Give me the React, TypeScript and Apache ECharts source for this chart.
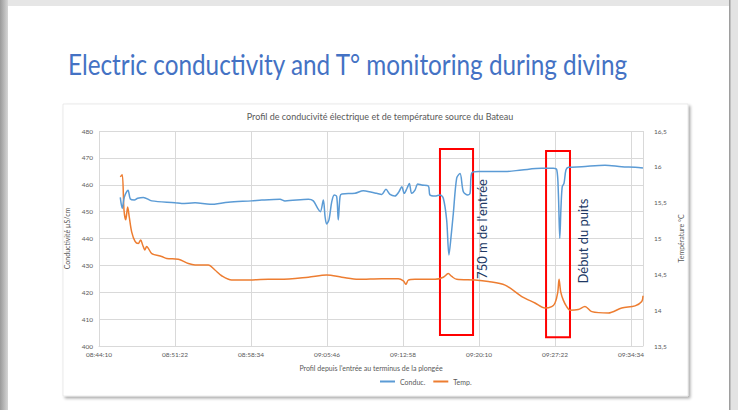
import React, { useEffect, useRef } from "react";
import * as echarts from "echarts";

const START_TIME = "08:44:10";
const AXIS_SPAN_SEC = 3092;
const TICK_STEP_SEC = 432;

const condTimes = ["08:46:11","08:46:22","08:46:34","08:46:55","08:47:08","08:47:31","08:47:50","08:48:22","08:49:10","08:51:22","08:52:00","08:53:16","08:54:41","08:56:25","08:58:38","08:59:35","09:01:19","09:01:47","09:04:00","09:04:28","09:04:53","09:05:08","09:05:25","09:05:35","09:05:44","09:05:57","09:06:13","09:06:27","09:06:41","09:06:50","09:07:00","09:07:10","09:08:25","09:09:12","09:10:00","09:10:28","09:10:57","09:11:21","09:11:44","09:12:12","09:12:35","09:12:51","09:13:05","09:13:21","09:13:34","09:13:47","09:14:06","09:14:22","09:14:44","09:15:22","09:15:31","09:16:00","09:16:28","09:16:47","09:17:06","09:17:19","09:17:31","09:17:44","09:18:03","09:18:22","09:18:41","09:19:06","09:19:19","09:19:28","09:20:06","09:22:38","09:24:13","09:26:06","09:27:12","09:27:32","09:27:41","09:27:49","09:27:56","09:28:03","09:28:13","09:28:24","09:28:38","09:29:54","09:32:06","09:33:41","09:34:57","09:35:42"];
const condValues = [455.3,451.2,455.4,458,454.7,454.3,455,455.3,454,453.3,453,453.3,452.7,453.5,454,454.3,454.6,454,454.6,454,451.2,450,454.3,448.1,445.4,446.9,453.7,456.2,455.6,446.9,455.6,456.6,456.8,457.8,457.2,456.8,456.4,458.3,456.4,455.8,457.4,459.3,456.8,458.7,460.5,456.8,458,460.3,459.9,459.5,456.2,455.8,456.2,455,446.9,433.9,440.7,449.4,462.5,464.2,457.4,456.2,456.8,464.3,464.9,464.9,465.5,466.1,466.1,465.5,456.8,440.1,451.8,459.3,460.5,465.5,466.5,466.7,467.3,466.7,466.5,466.2];

const tempTimes = ["08:46:11","08:46:22","08:46:32","08:46:42","08:46:53","08:47:02","08:47:16","08:47:35","08:47:53","08:48:07","08:48:18","08:48:31","08:48:41","08:49:10","08:50:06","08:50:35","08:51:41","08:52:38","08:53:16","08:54:31","08:55:09","08:55:47","08:56:44","08:58:00","09:00:12","09:01:19","09:04:00","09:05:44","09:07:10","09:08:44","09:10:57","09:12:31","09:13:00","09:13:15","09:13:28","09:14:06","09:16:00","09:16:47","09:17:15","09:17:35","09:18:03","09:19:47","09:21:03","09:22:38","09:24:13","09:25:28","09:26:25","09:27:03","09:27:22","09:27:37","09:27:45","09:27:54","09:28:09","09:28:28","09:28:47","09:29:34","09:30:12","09:30:51","09:32:25","09:33:41","09:34:57","09:35:35","09:35:42"];
const tempValues = [15.86,15.89,15.4,15.26,15.44,15.3,15.09,14.96,14.93,14.98,14.91,14.84,14.89,14.79,14.75,14.72,14.71,14.65,14.63,14.63,14.56,14.48,14.42,14.42,14.43,14.43,14.46,14.49,14.46,14.43,14.44,14.44,14.41,14.36,14.42,14.43,14.43,14.46,14.51,14.47,14.43,14.42,14.4,14.35,14.19,14.1,14.03,14.05,14.1,14.24,14.43,14.26,14.14,14.05,14.0,14.01,14.05,13.98,13.96,14.03,14.06,14.12,14.2];

const annotationBoxes = [
  { from: "09:16:28", to: "09:19:36", low: 404.1, high: 473.3 },
  { from: "09:26:31", to: "09:28:47", low: 403.3, high: 472.6 },
];

const SLIDE_TITLE = "Electric conductivity and T° monitoring during diving";
const CHART_TITLE = "Profil de conducivité électrique et de température source du Bateau";
const X_NAME = "Profil depuis l'entrée au terminus de la plongée";
const Y_LEFT_NAME = "Conductivité µS/cm";
const Y_RIGHT_NAME = "Température °C";

const toSec = (s: string) => {
  const [h, m, x] = s.split(":").map(Number);
  return h * 3600 + m * 60 + x;
};
const pad = (n: number) => (n < 10 ? "0" + n : "" + n);
const fmt = (sec: number) =>
  pad(Math.floor(sec / 3600)) + ":" + pad(Math.floor((sec % 3600) / 60)) + ":" + pad(sec % 60);

const FONT = 'Lato, "Open Sans", sans-serif';
const GRAY = "#595959";

export default function App() {
  const ref = useRef<HTMLDivElement>(null);
  useEffect(() => {
    const chart = echarts.init(ref.current!, null, { renderer: "svg", width: 738, height: 410 });
    const t0 = toSec(START_TIME);
    const condData = condTimes.map((t, i) => [toSec(t) - t0, condValues[i]]);
    const tempData = tempTimes.map((t, i) => [toSec(t) - t0, tempValues[i]]);

    const ctx = document.createElement("canvas").getContext("2d")!;
    ctx.font = "28px " + FONT;
    const titleW = ctx.measureText(SLIDE_TITLE).width || 560;
    const titleScale = 561 / titleW;

    chart.setOption({
      animation: false,
      backgroundColor: "#ffffff",
      textStyle: { fontFamily: FONT },
      title: {
        text: CHART_TITLE,
        left: 375,
        top: 107,
        textAlign: "center",
        textStyle: { fontSize: 9, fontWeight: "normal", color: GRAY, fontFamily: FONT },
      },
      grid: { left: 99, right: 95, top: 131, bottom: 64 },
      legend: {
        bottom: 20,
        left: 375,
        textAlign: "center",
        icon: "rect",
        itemWidth: 15,
        itemHeight: 2,
        itemGap: 8,
        textStyle: { fontSize: 7, color: GRAY, fontFamily: FONT },
        data: ["Conduc.", "Temp."],
      },
      xAxis: {
        type: "value",
        min: 0,
        max: AXIS_SPAN_SEC,
        interval: TICK_STEP_SEC,
        name: X_NAME,
        nameLocation: "middle",
        nameGap: 18,
        nameTextStyle: { fontSize: 7, color: GRAY, fontFamily: FONT },
        axisLine: { show: true, lineStyle: { color: "#d9d9d9", width: 1 } },
        axisTick: { show: false },
        axisLabel: {
          fontSize: 6.5,
          color: GRAY,
          margin: 5,
          showMaxLabel: false,
          formatter: (v: number) => (v % TICK_STEP_SEC === 0 ? fmt(t0 + v) : ""),
        },
        splitLine: { show: true, lineStyle: { color: "#d9d9d9", width: 1 } },
      },
      yAxis: [
        {
          type: "value",
          min: 400,
          max: 480,
          interval: 10,
          name: Y_LEFT_NAME,
          nameLocation: "middle",
          nameGap: 22,
          nameTextStyle: { fontSize: 7, color: GRAY, fontFamily: FONT },
          axisLine: { show: false },
          axisTick: { show: false },
          axisLabel: { fontSize: 6.5, color: GRAY, margin: 6 },
          splitLine: { show: true, lineStyle: { color: "#d9d9d9", width: 1 } },
        },
        {
          type: "value",
          min: 13.5,
          max: 16.5,
          interval: 0.5,
          name: Y_RIGHT_NAME,
          nameLocation: "middle",
          nameGap: 30,
          nameRotate: 90,
          nameTextStyle: { fontSize: 7, color: GRAY, fontFamily: FONT },
          axisLine: { show: false },
          axisTick: { show: false },
          axisLabel: {
            fontSize: 6.5,
            color: GRAY,
            margin: 11,
            formatter: (v: number) => String(v).replace(".", ","),
          },
          splitLine: { show: false },
        },
      ],
      series: [
        {
          name: "Conduc.",
          type: "line",
          yAxisIndex: 0,
          data: condData,
          showSymbol: false,
          smooth: 0.3,
          lineStyle: { color: "#5B9BD5", width: 1.5 },
          itemStyle: { color: "#5B9BD5" },
          z: 3,
          markArea: {
            silent: true,
            itemStyle: { color: "rgba(0,0,0,0)", borderColor: "#FF0000", borderWidth: 2 },
            data: annotationBoxes.map((b) => [
              { xAxis: toSec(b.from) - t0, yAxis: b.high },
              { xAxis: toSec(b.to) - t0, yAxis: b.low },
            ]),
          },
        },
        {
          name: "Temp.",
          type: "line",
          yAxisIndex: 1,
          data: tempData,
          showSymbol: false,
          smooth: 0.3,
          lineStyle: { color: "#ED7D31", width: 1.5 },
          itemStyle: { color: "#ED7D31" },
          z: 2,
        },
      ],
      graphic: [
        {
          type: "rect",
          z: -20,
          shape: { x: 0, y: 0, width: 8, height: 410 },
          style: {
            fill: new echarts.graphic.LinearGradient(0, 0, 1, 0, [
              { offset: 0, color: "#9a9a9a" },
              { offset: 1, color: "#d6d6d6" },
            ]),
          },
        },
        { type: "rect", z: -20, shape: { x: 8, y: 0, width: 730, height: 6 }, style: { fill: "#e6e6e6" } },
        { type: "rect", z: -20, shape: { x: 730, y: 0, width: 8, height: 410 }, style: { fill: "#e3e3e3" } },
        { type: "rect", z: -19, shape: { x: 729, y: 0, width: 1.5, height: 410 }, style: { fill: "#9e9e9e" } },
        {
          type: "rect",
          z: -15,
          shape: { x: 63, y: 104, width: 625, height: 292 },
          style: {
            fill: "#ffffff",
            stroke: "#e3e3e3",
            lineWidth: 0.7,
            shadowBlur: 3,
            shadowOffsetX: 2,
            shadowOffsetY: 2,
            shadowColor: "rgba(0,0,0,0.35)",
          },
        },
        {
          type: "text",
          z: 10,
          x: 68,
          y: 64,
          scaleX: titleScale,
          style: {
            text: SLIDE_TITLE,
            fontSize: 28,
            fontFamily: FONT,
            fill: "#4472C4",
            align: "left",
            verticalAlign: "middle",
          },
        },
        {
          type: "text",
          z: 10,
          x: 482,
          y: 229,
          rotation: Math.PI / 2,
          style: {
            text: "750 m de l'entrée",
            fontSize: 13,
            fontFamily: FONT,
            fill: "#203864",
            align: "center",
            verticalAlign: "middle",
          },
        },
        {
          type: "text",
          z: 10,
          x: 583,
          y: 241,
          rotation: Math.PI / 2,
          style: {
            text: "Début du puits",
            fontSize: 13,
            fontFamily: FONT,
            fill: "#203864",
            align: "center",
            verticalAlign: "middle",
          },
        },
      ],
    });
    return () => chart.dispose();
  }, []);
  return (
    <div style={{ position: "absolute", left: 0, top: 0, width: 738, height: 410, background: "#fff" }}>
      <div ref={ref} style={{ width: 738, height: 410 }} />
    </div>
  );
}
